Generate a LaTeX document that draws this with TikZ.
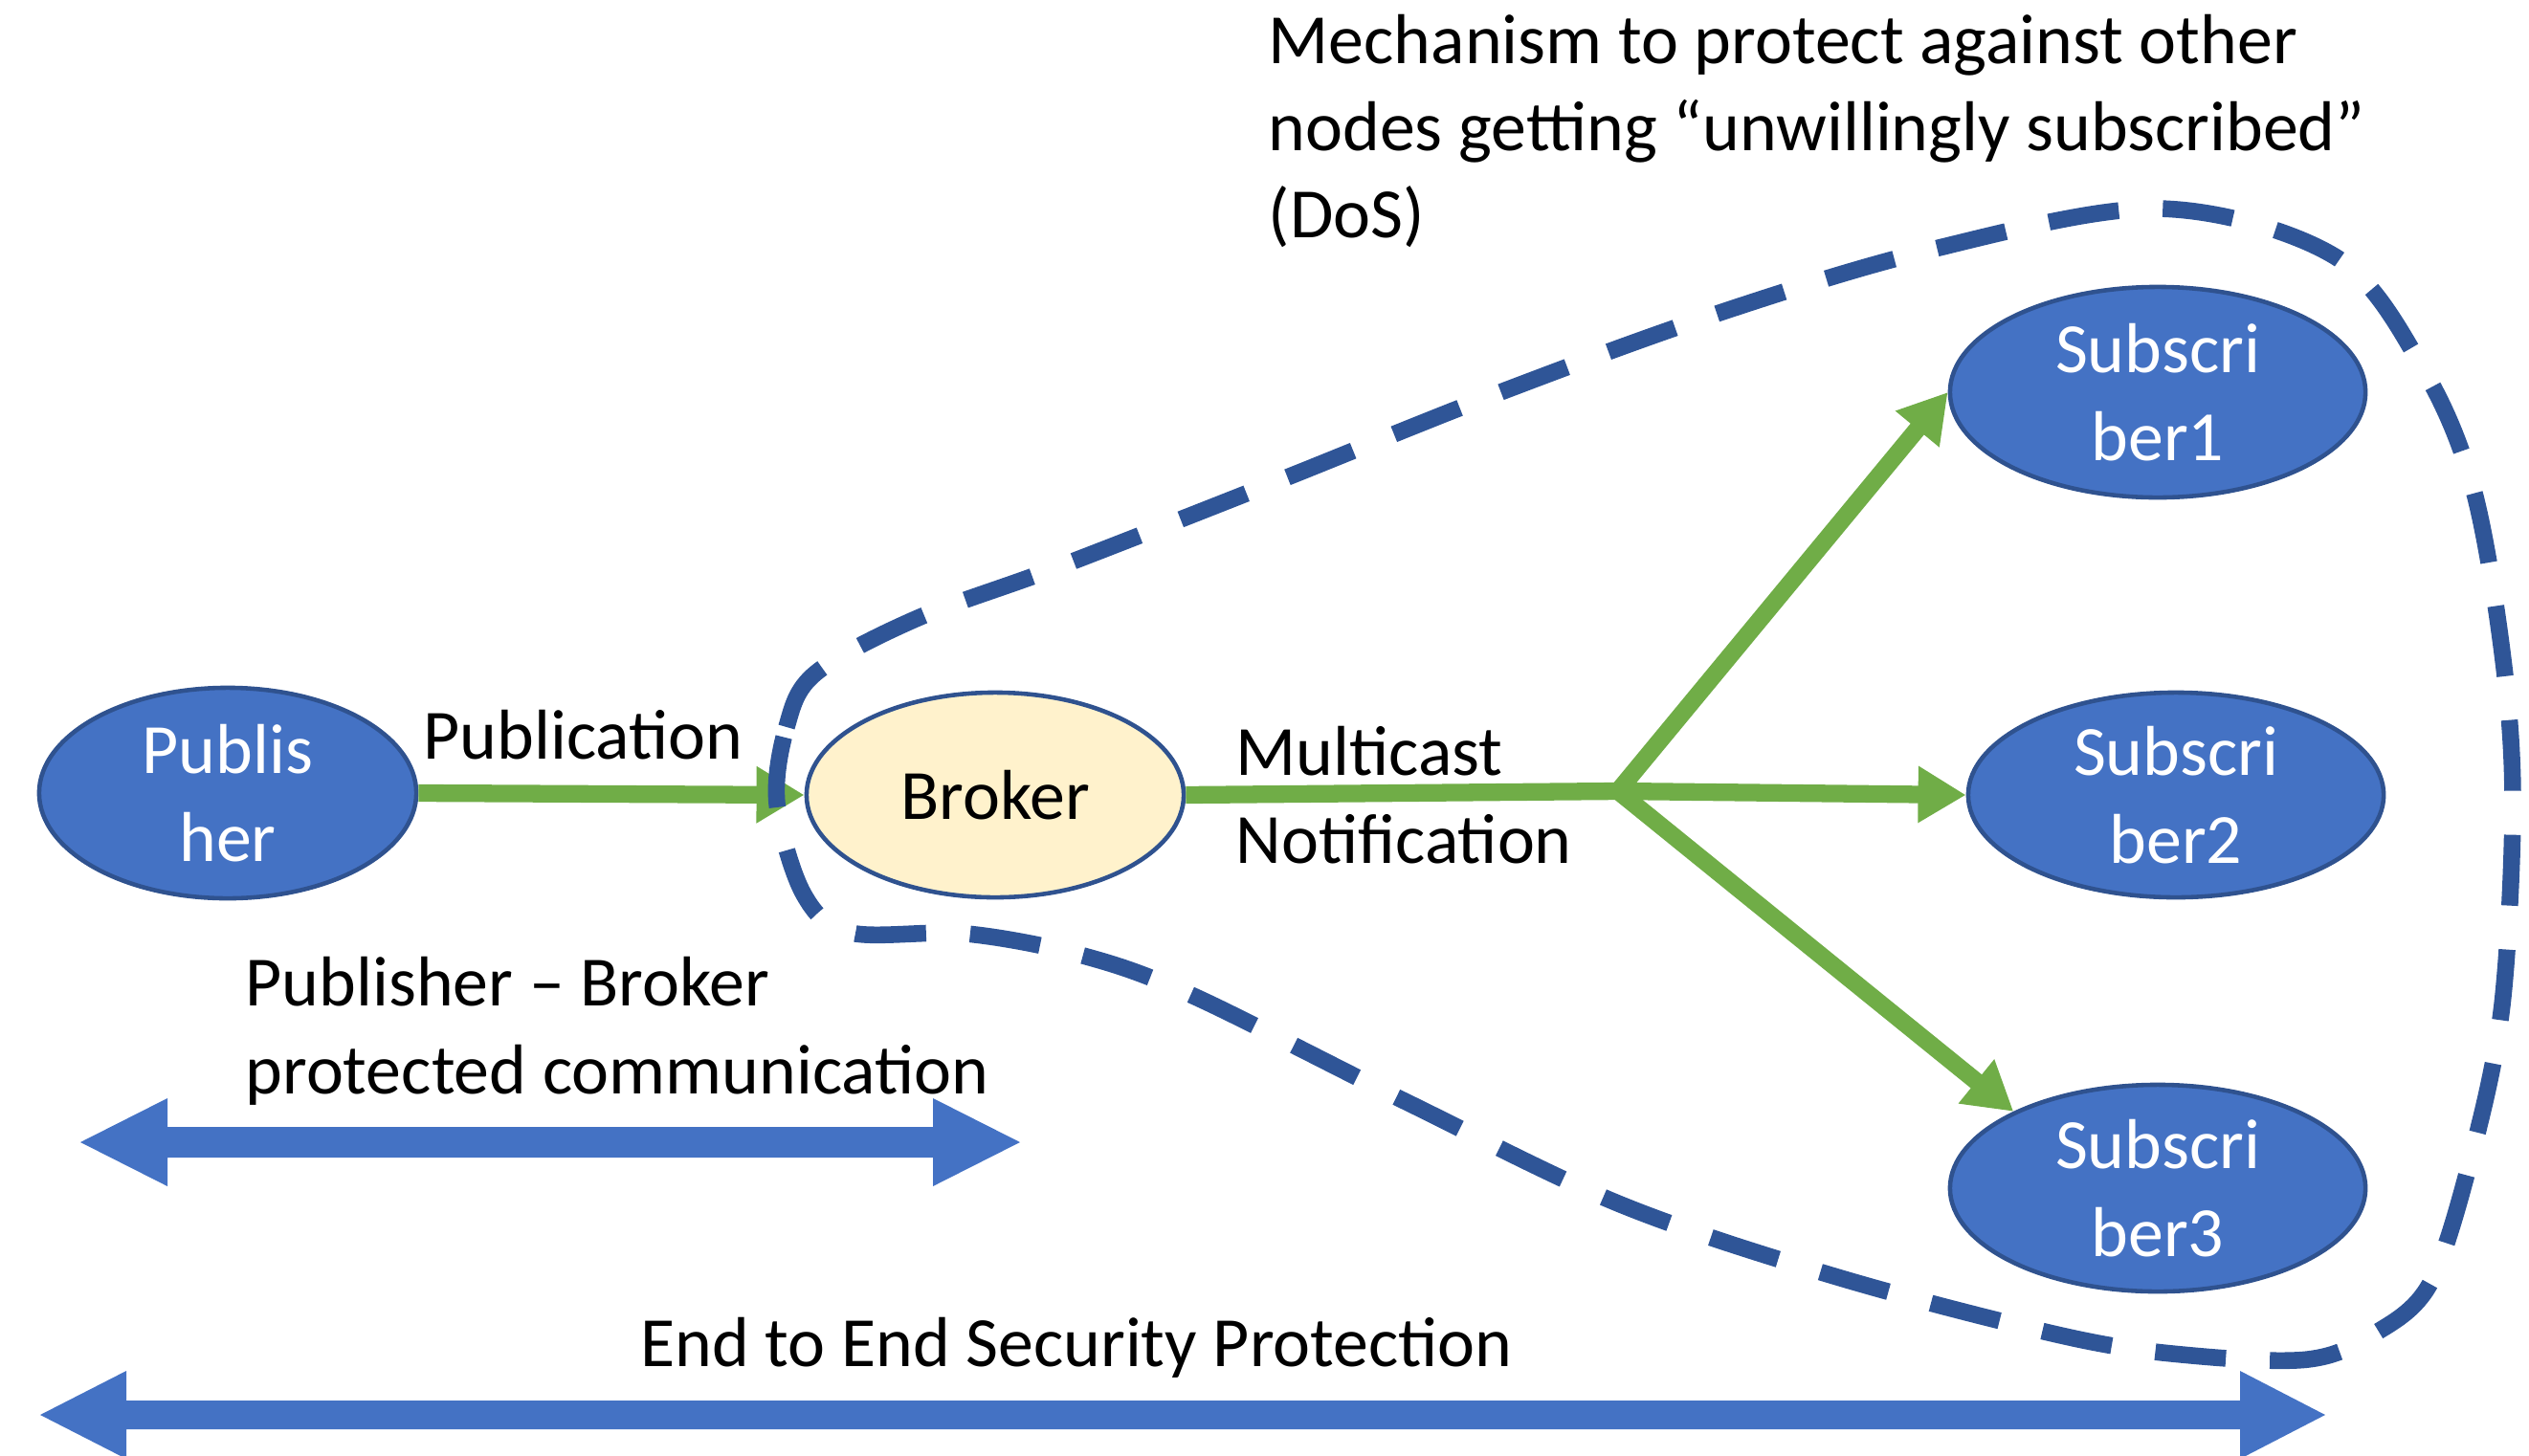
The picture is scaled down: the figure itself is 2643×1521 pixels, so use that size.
\documentclass[tikz,border=0pt]{standalone}
\usepackage{fontspec}
\setmainfont{Carlito}
\usetikzlibrary{arrows.meta,shapes.geometric}
\definecolor{partyblue}{HTML}{4472C4}
\definecolor{rimblue}{HTML}{2F528F}
\definecolor{dashblue}{HTML}{2F5597}
\definecolor{brokeryellow}{HTML}{FFF2CC}
\definecolor{flowgreen}{HTML}{70AD47}
\begin{document}
\begin{tikzpicture}[x=0.01cm, y=-0.01cm,
	every node/.style={font=\fontsize{21}{26}\selectfont, inner sep=0pt},
	party/.style={ellipse, draw=rimblue, line width=1.3pt, fill=partyblue, text=white, align=center},
	flow/.style={draw=flowgreen, line width=5.2pt},
	flowtip/.style={flow, -{Triangle[length=0.5cm, width=0.56cm]}},
	span/.style={fill=partyblue}]
	\useasboundingbox (0,0) rectangle (2643,1521);
	\node[party, minimum width=3.94cm, minimum height=2.2cm] (pub) at (238,829) {Publis\\her};
	\node[ellipse, draw=rimblue, line width=1.3pt, fill=brokeryellow, minimum width=3.94cm, minimum height=2.14cm] (broker) at (1040,831) {Broker};
	\node[party, minimum width=4.34cm, minimum height=2.2cm] (sub1) at (2255,410) {Subscri\\ber1};
	\node[party, minimum width=4.34cm, minimum height=2.14cm] (sub2) at (2274,831) {Subscri\\ber2};
	\node[party, minimum width=4.34cm, minimum height=2.16cm] (sub3) at (2255,1242) {Subscri\\ber3};
	\coordinate (split) at (1691,827);
	\node[anchor=west] (publabel) at (442,768) {Publication};
	\node[anchor=west, align=left] (mclabel) at (1291,831) {Multicast\\Notification};
	\node[anchor=west, align=left] (pblabel) at (256,1078) {Publisher -- Broker\\protected communication};
	\node (e2elabel) at (1125,1409) {End to End Security Protection};
	\node[anchor=west, align=left] (doslabel) at (1325,137) {Mechanism to protect against other\\nodes getting “unwillingly subscribed”\\(DoS)};
	\draw[flowtip] (pub.east) -- (broker.west);
	\draw[flow] (broker.east) -- (split);
	\draw[flowtip] (split) -- (sub1.west);
	\draw[flowtip] (split) -- (sub2.west);
	\draw[flowtip] (split) -- (sub3.152);
	\fill[span] (84,1194) -- (175,1148) -- (175,1178) -- (975,1178) -- (975,1148) -- (1066,1194) -- (975,1240) -- (975,1210) -- (175,1210) -- (175,1240) -- cycle;
	\fill[span] (42,1479) -- (132,1433) -- (132,1464) -- (2341,1464) -- (2341,1433) -- (2430,1479) -- (2341,1525) -- (2341,1494) -- (132,1494) -- (132,1525) -- cycle;
	\draw[dashblue, line width=5pt, dash pattern=on 0.74cm off 0.46cm] plot[smooth cycle, tension=0.55] coordinates {(812,840) (822,760) (852,704) (957,647) (1105,593) (1330,505) (1555,415) (1785,331) (2014,262) (2254,218) (2440,268) (2533,387) (2585,512) (2616,690) (2626,843) (2615,1050) (2585,1200) (2540,1341) (2480,1395) (2412,1421) (2291,1417) (2163,1398) (1927,1337) (1696,1260) (1472,1153) (1247,1041) (1132,999) (1010,976) (889,975) (840,935)};
\end{tikzpicture}
\end{document}
